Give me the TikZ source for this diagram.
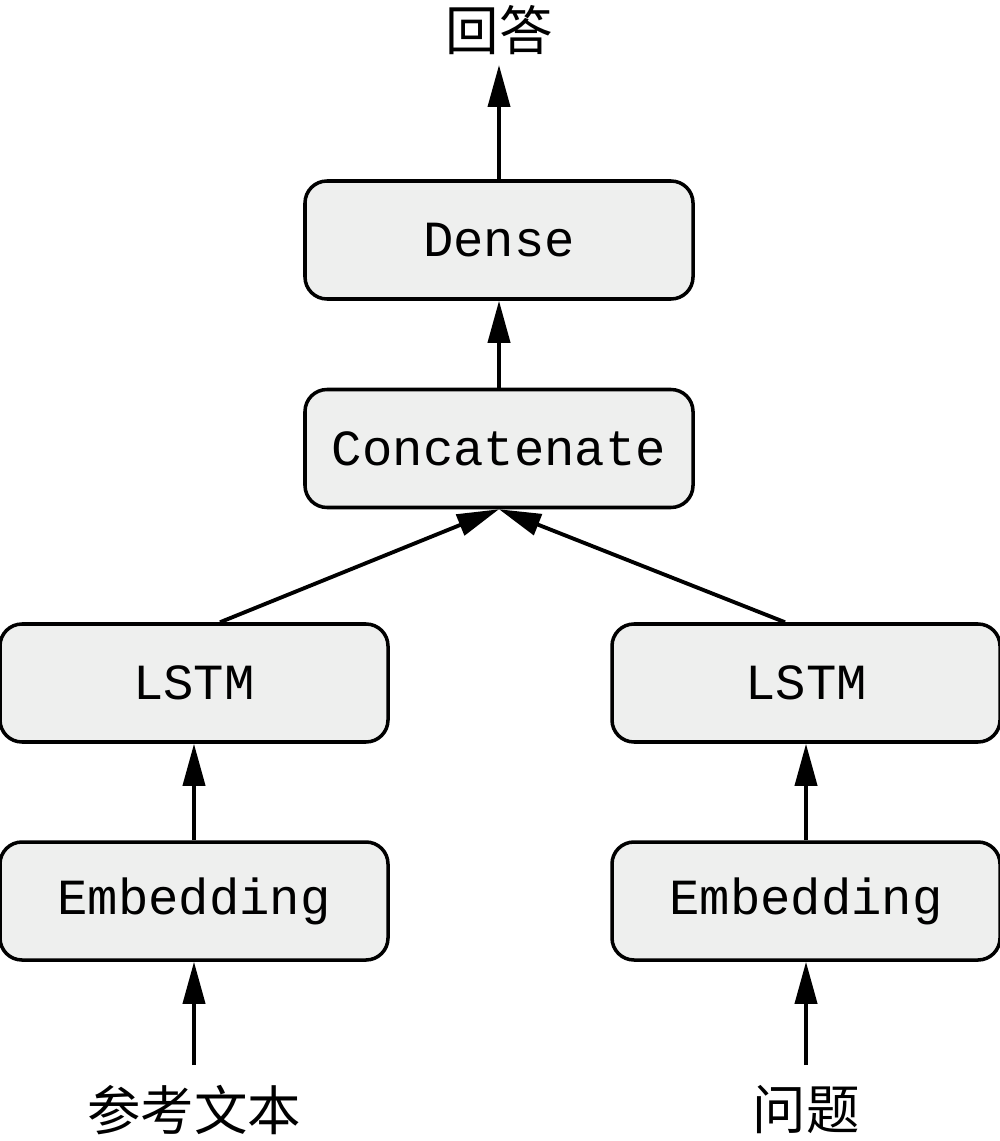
\documentclass[tikz,border=0pt]{standalone}
\usepackage{fontspec}
\setmonofont{Liberation Mono}
\newfontfamily\cjk{Noto Sans CJK SC}
\usetikzlibrary{arrows.meta}
\usetikzlibrary{calc}
\definecolor{boxgray}{RGB}{238,239,238}
\tikzset{
  layer/.style={draw, fill=boxgray, rounded corners=0.22cm, line width=1pt,
    minimum width=3.88cm, minimum height=1.18cm, font=\ttfamily\fontsize{14.4}{16}\selectfont},
  io/.style={font=\cjk\fontsize{15.2}{17}\selectfont, inner sep=0.2cm},
  flow/.style={line width=1.1pt, -{Triangle[length=0.42cm,width=0.22cm]}}
}
\begin{document}
\begin{tikzpicture}
	\useasboundingbox (0,0) rectangle (10,-11.41);
	\node[layer] (dense) at (4.99,-2.40) {Dense};
	\node[layer] (concat) at (4.99,-4.485) {Concatenate};
	\node[io, anchor=south, inner sep=0.1cm] (answer) at (4.99,-0.65) {回答};
	\draw[flow] (dense) -- (answer);
	\draw[flow] (concat) -- (dense);
	\foreach \side/\x/\shift/\word in {L/1.94/0.26/参考文本, R/8.06/-0.21/问题} {
		\node[layer] (lstm\side) at (\x,-6.83) {LSTM};
		\node[layer] (emb\side) at (\x,-9.01) {Embedding};
		\node[io, anchor=north] (in\side) at (\x,-10.65) {\word};
		\draw[flow] (in\side.north) -- (emb\side.south);
		\draw[flow] (emb\side) -- (lstm\side);
		\draw[flow] ([xshift=\shift cm]lstm\side.north) -- (concat.south);
	}
\end{tikzpicture}
\end{document}
